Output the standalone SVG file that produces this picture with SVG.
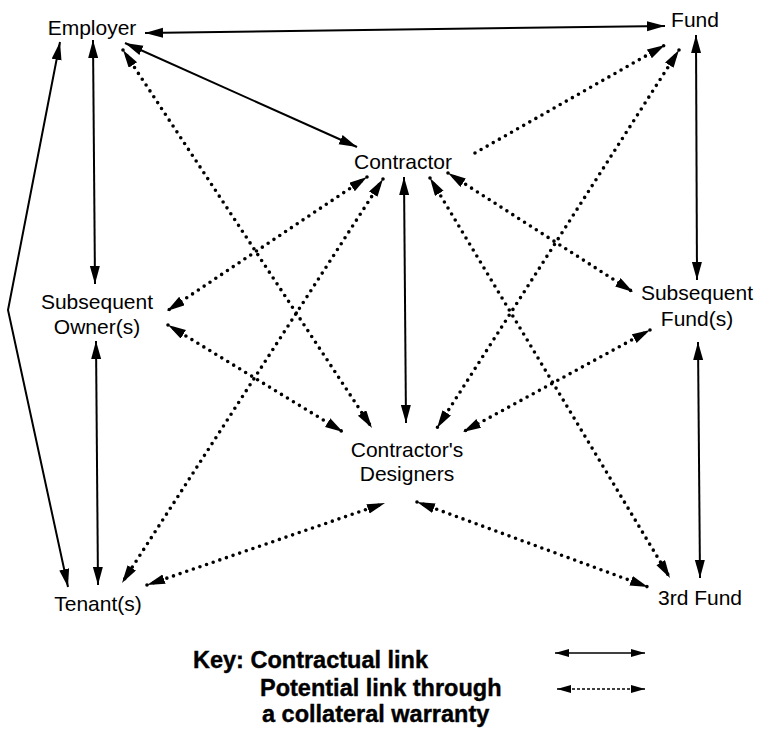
<svg xmlns="http://www.w3.org/2000/svg" width="758" height="735" viewBox="0 0 758 735">
<defs>
<style>
.lbl{font-family:"Liberation Sans",Arial,sans-serif;font-size:21px;fill:#000;text-anchor:middle}
.key{font-family:"Liberation Sans",Arial,sans-serif;font-size:23.5px;font-weight:bold;fill:#000;stroke:#000;stroke-width:0.4}
.solid{fill:none;stroke:#000;stroke-width:2}
.dot{fill:none;stroke:#000;stroke-width:3.6;stroke-dasharray:0 7;stroke-linecap:round}
.ksolid{fill:none;stroke:#000;stroke-width:1.5}
.kdash{fill:none;stroke:#000;stroke-width:1.3;stroke-dasharray:3 2}
</style>
<marker id="ah" markerUnits="userSpaceOnUse" markerWidth="19" markerHeight="11" refX="18" refY="5" orient="auto-start-reverse" viewBox="0 0 19 11">
<path d="M0,0 L18,5 L0,10 z" fill="#000"/>
</marker>
<marker id="ak" markerUnits="userSpaceOnUse" markerWidth="15" markerHeight="9" refX="14" refY="4" orient="auto-start-reverse" viewBox="0 0 15 9">
<path d="M0,0 L14,4 L0,8 z" fill="#000"/>
</marker>
</defs>
<rect width="758" height="735" fill="#fff"/>
<g id="connectors">
<line class="solid" x1="145" y1="33" x2="665" y2="26" marker-start="url(#ah)" marker-end="url(#ah)"/>
<line class="solid" x1="125" y1="43" x2="357" y2="147" marker-start="url(#ah)" marker-end="url(#ah)"/>
<line class="solid" x1="93" y1="40" x2="95" y2="284" marker-start="url(#ah)" marker-end="url(#ah)"/>
<line class="solid" x1="96" y1="341" x2="98" y2="585" marker-start="url(#ah)" marker-end="url(#ah)"/>
<path class="solid" d="M60,42 L8,310 L68,587" marker-start="url(#ah)" marker-end="url(#ah)"/>
<line class="solid" x1="404" y1="177" x2="406" y2="423" marker-start="url(#ah)" marker-end="url(#ah)"/>
<line class="solid" x1="696" y1="35" x2="697" y2="280" marker-start="url(#ah)" marker-end="url(#ah)"/>
<line class="solid" x1="698" y1="342" x2="700" y2="578" marker-start="url(#ah)" marker-end="url(#ah)"/>
<line class="dot" x1="123" y1="50" x2="372" y2="428" marker-start="url(#ah)" marker-end="url(#ah)"/>
<line class="dot" x1="475" y1="153" x2="665" y2="45" marker-end="url(#ah)"/>
<line class="dot" x1="679" y1="50" x2="437" y2="428" marker-start="url(#ah)" marker-end="url(#ah)"/>
<line class="dot" x1="367" y1="177" x2="167" y2="311" marker-start="url(#ah)" marker-end="url(#ah)"/>
<line class="dot" x1="383" y1="179" x2="122" y2="583" marker-start="url(#ah)" marker-end="url(#ah)"/>
<line class="dot" x1="448" y1="173" x2="633" y2="292" marker-start="url(#ah)" marker-end="url(#ah)"/>
<line class="dot" x1="430" y1="178" x2="670" y2="578" marker-start="url(#ah)" marker-end="url(#ah)"/>
<line class="dot" x1="168" y1="325" x2="343" y2="432" marker-start="url(#ah)" marker-end="url(#ah)"/>
<line class="dot" x1="650" y1="330" x2="463" y2="432" marker-start="url(#ah)" marker-end="url(#ah)"/>
<line class="dot" x1="147" y1="585" x2="385" y2="503" marker-start="url(#ah)" marker-end="url(#ah)"/>
<line class="dot" x1="417" y1="502" x2="648" y2="587" marker-start="url(#ah)" marker-end="url(#ah)"/>
</g>
<g id="employer"><text class="lbl" x="92" y="35">Employer</text></g>
<g id="fund"><text class="lbl" x="695" y="27">Fund</text></g>
<g id="contractor"><text class="lbl" x="403" y="169">Contractor</text></g>
<g id="subsequent-owner"><text class="lbl" x="97" y="309">Subsequent</text><text class="lbl" x="97" y="334">Owner(s)</text></g>
<g id="subsequent-fund"><text class="lbl" x="697" y="300">Subsequent</text><text class="lbl" x="697" y="326">Fund(s)</text></g>
<g id="designers"><text class="lbl" x="407" y="457">Contractor's</text><text class="lbl" x="407" y="481">Designers</text></g>
<g id="tenant"><text class="lbl" x="98" y="611">Tenant(s)</text></g>
<g id="third-fund"><text class="lbl" x="700" y="605">3rd Fund</text></g>
<g id="key">
<text class="key" x="193" y="668">Key: Contractual link</text>
<text class="key" x="260" y="696">Potential link through</text>
<text class="key" x="262" y="722">a collateral warranty</text>
<line class="ksolid" x1="555" y1="653" x2="645" y2="653" marker-start="url(#ak)" marker-end="url(#ak)"/>
<line class="kdash" x1="557" y1="689" x2="645" y2="689" marker-start="url(#ak)" marker-end="url(#ak)"/>
</g>
</svg>
